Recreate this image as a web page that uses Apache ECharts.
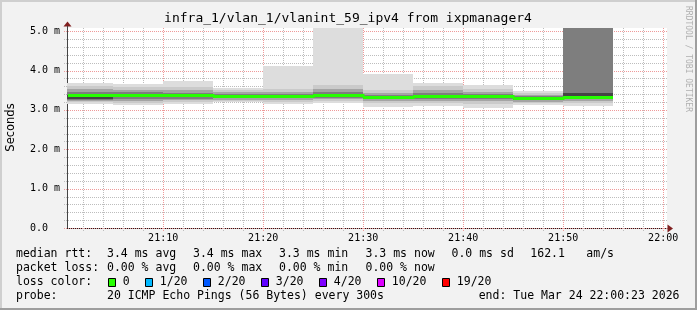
<!DOCTYPE html>
<html><head><meta charset="utf-8">
<script src="https://cdn.jsdelivr.net/npm/echarts@6/dist/echarts.min.js"></script>
<style>html,body{margin:0;padding:0;background:#f2f2f2}#c{width:697px;height:310px}</style>
</head><body><div id="c"></div>
<script>
// ---- data (x = minutes after 21:00, y = milliseconds) ----
const segTimes   = [0, 5, 10, 15, 20, 25, 30, 35, 40, 45, 50, 55];
const medianRtt  = [3.39, 3.37, 3.37, 3.35, 3.36, 3.38, 3.34, 3.35, 3.35, 3.29, 3.33];
const smokeL1Lo  = [3.14, 3.12, 3.16, 3.20, 3.14, 3.18, 3.08, 3.11, 3.06, 3.12, 3.10];
const smokeL1Hi  = [3.68, 3.65, 3.73, 3.56, 4.11, 5.60, 3.91, 3.68, 3.63, 3.49, 5.60];
const smokeL2Lo  = [3.19, 3.18, 3.20, 3.23, 3.20, 3.22, 3.17, 3.17, 3.15, 3.17, 3.17];
const smokeL2Hi  = [3.60, 3.57, 3.58, 3.50, 3.52, 3.62, 3.50, 3.60, 3.54, 3.44, 5.60];
const smokeL3Lo  = [3.22, 3.23, 3.24, 3.26, 3.25, 3.27, 3.23, 3.23, 3.22, 3.21, 3.23];
const smokeL3Hi  = [3.53, 3.50, 3.50, 3.45, 3.46, 3.52, 3.43, 3.50, 3.46, 3.39, 5.60];
const smokeL4Lo  = [3.25, 3.28, 3.28, 3.29, 3.29, 3.31, 3.27, 3.27, 3.27, 3.24, 3.28];
const smokeL4Hi  = [3.46, 3.45, 3.44, 3.41, 3.41, 3.45, 3.39, 3.42, 3.41, 3.35, 5.60];
const smokeL5Lo  = [3.27, 3.32, 3.32, 3.32, 3.32, 3.34, 3.30, 3.29, 3.31, 3.26, 3.30];
const smokeL5Hi  = [3.39, 3.41, 3.40, 3.38, 3.38, 3.41, 3.36, 3.35, 3.38, 3.31, 3.42];
const xTickValues = [10, 20, 30, 40, 50, 60];
const yTickValues = [0, 1, 2, 3, 4, 5];
const axisMin = 23/60, axisMax = 60 + 23/60, yMax = 5.08;

const titleText = 'infra_1/vlan_1/vlanint_59_ipv4 from ixpmanager4';
const rowLabels = ['median rtt:', 'packet loss:', 'loss color:', 'probe:'];
const rttStats  = ['3.4 ms avg', '3.4 ms max', '3.3 ms min', '3.3 ms now', '0.0 ms sd', '162.1', 'am/s'];
const lossStats = ['0.00 % avg', '0.00 % max', '0.00 % min', '0.00 % now'];
const lossLabels = ['0', '1/20', '2/20', '3/20', '4/20', '10/20', '19/20'];
const lossColors = ['#26ff00', '#00b8ff', '#0059ff', '#5e00ff', '#7e00ff', '#dd00ff', '#ff0000'];
const probeText = '20 ICMP Echo Pings (56 Bytes) every 300s';
const endText = 'end: Tue Mar 24 22:00:23 2026';

// ---- styles / layout ----
const bandColors = ['#dddddd', '#cacaca', '#a4a4a4', '#7e7e7e', '#454545'];
const bandsLo = [smokeL1Lo, smokeL2Lo, smokeL3Lo, smokeL4Lo, smokeL5Lo];
const bandsHi = [smokeL1Hi, smokeL2Hi, smokeL3Hi, smokeL4Hi, smokeL5Hi];
const MONO = '"DejaVu Sans Mono", monospace';
const MINOR_COLOR = '#bdbdbd';
const MAJOR_COLOR = '#ee9a9a';

const smokeData = [];
for (let i = 0; i < medianRtt.length; i++) {
  for (let b = 0; b < bandsLo.length; b++) {
    smokeData.push([segTimes[i], bandsLo[b][i], segTimes[i+1], bandsHi[b][i], b]);
  }
}
const medianData = medianRtt.map((m, i) => [segTimes[i], m, segTimes[i+1], i + 1 < medianRtt.length ? medianRtt[i+1] : m]);

const vMinor = [], vMajor = [];
for (let m = 2; m <= 60; m += 2) (m % 10 === 0 ? vMajor : vMinor).push([m, 0]);
const hMinor = [], hMajor = [];
for (let k = 0; k <= 25; k++) { const v = Math.round(k * 2) / 10; (k % 5 === 0 ? hMajor : hMinor).push([axisMin, v]); }

function csRect(p) { return {x: p.coordSys.x, y: p.coordSys.y, width: p.coordSys.width, height: p.coordSys.height}; }

function vGridSeries(data, color, z) {
  return { type: 'custom', silent: true, z: z, data: data,
    renderItem: (p, api) => {
      const x = Math.round(api.coord([api.value(0), 0])[0]) + 0.5;
      const cs = p.coordSys;
      return {type:'line', shape:{x1:x, y1:cs.y + cs.height + 3, x2:x, y2:cs.y},
        style:{stroke: color, lineWidth:1, lineDash:[1,1]}};
    }};
}
function hGridSeries(data, color, z) {
  return { type: 'custom', silent: true, z: z, data: data,
    renderItem: (p, api) => {
      const y = Math.round(api.coord([axisMin, api.value(1)])[1]) + 0.5;
      const cs = p.coordSys;
      return {type:'line', shape:{x1:cs.x - 3, y1:y, x2:cs.x + cs.width, y2:y},
        style:{stroke: color, lineWidth:1, lineDash:[1,1]}};
    }};
}

const chart = echarts.init(document.getElementById('c'), null, {renderer: 'canvas'});

const graphic = [];
graphic.push({type:'rect', shape:{x:0,y:0,width:697,height:2}, style:{fill:'#cfcfcf'}, z:100});
graphic.push({type:'rect', shape:{x:0,y:0,width:2,height:310}, style:{fill:'#cfcfcf'}, z:100});
graphic.push({type:'rect', shape:{x:0,y:308,width:697,height:2}, style:{fill:'#9e9e9e'}, z:101});
graphic.push({type:'rect', shape:{x:695,y:0,width:2,height:310}, style:{fill:'#9e9e9e'}, z:101});
graphic.push({type:'text', x:348, y:19, style:{text:titleText, font:'13px ' + MONO, fill:'#000', textAlign:'center', textVerticalAlign:'middle'}, z:100});
graphic.push({type:'text', x:11, y:127.5, rotation:Math.PI/2, style:{text:'Seconds', font:'11.5px "DejaVu Sans", sans-serif', fill:'#000', textAlign:'center', textVerticalAlign:'middle'}, z:100});
graphic.push({type:'text', x:688.5, y:59, rotation:-Math.PI/2, style:{text:'RRDTOOL / TOBI OETIKER', font:'8px ' + MONO, fill:'#b0b0b0', textAlign:'center', textVerticalAlign:'middle'}, z:100});
graphic.push({type:'polygon', shape:{points:[[63.5,26.5],[67.5,21.5],[71.5,26.5]]}, style:{fill:'#801f1f'}, z:100});
graphic.push({type:'polygon', shape:{points:[[667.5,224.5],[673,228.5],[667.5,232.5]]}, style:{fill:'#801f1f'}, z:100});
graphic.push({type:'line', shape:{x1:67.5,y1:26,x2:67.5,y2:30}, style:{stroke:'#444',lineWidth:1}, z:100});

const rowY = [254.3, 268, 282, 296];
const legFont = '11.5px ' + MONO;
function txt(s, x, y) { graphic.push({type:'text', x:x, y:y, style:{text:s, font:legFont, fill:'#000', textAlign:'left', textVerticalAlign:'middle'}, z:100}); }
rowLabels.forEach((s, i) => txt(s, 16, rowY[i]));
const rttX = [107, 193, 279, 365.5, 451.5, 530.3, 586.3];
rttStats.forEach((s, i) => txt(s, rttX[i], rowY[0]));
lossStats.forEach((s, i) => txt(s, rttX[i], rowY[1]));
const swatchX = [108.5, 145.5, 203.5, 261.5, 319.5, 377.5, 442.5];
lossLabels.forEach((s, i) => {
  graphic.push({type:'rect', shape:{x:swatchX[i], y:278.5, width:7, height:8}, style:{fill:lossColors[i], stroke:'#000', lineWidth:1}, z:100});
  txt(s, swatchX[i] + 14.3, rowY[2]);
});
txt(probeText, 107, rowY[3]);
txt(endText, 478.7, rowY[3]);

const option = {
  animation: false,
  backgroundColor: '#f2f2f2',
  grid: {left: 67, right: 30, top: 28, bottom: 82, show: true, backgroundColor: '#ffffff', borderWidth: 0, containLabel: false},
  xAxis: {
    type: 'value', min: axisMin, max: axisMax,
    axisLine: {show: true, onZero: false, lineStyle: {color: '#1f1f1f', width: 1}},
    axisTick: {show: false},
    splitLine: {show: false},
    axisLabel: {customValues: xTickValues, margin: 5, fontFamily: MONO, fontSize: 10, color: '#000',
      formatter: v => { const tot = 21*60 + Math.round(v); return String(Math.floor(tot/60)) + ':' + String(tot%60).padStart(2,'0'); }}
  },
  yAxis: {
    type: 'value', min: 0, max: yMax,
    axisLine: {show: true, lineStyle: {color: '#444', width: 1}},
    axisTick: {show: false},
    splitLine: {show: false},
    axisLabel: {customValues: yTickValues, margin: 7, fontFamily: MONO, fontSize: 10, color: '#000',
      formatter: v => v === 0 ? '0.0  ' : v.toFixed(1) + ' m'}
  },
  graphic: graphic,
  series: [
    vGridSeries(vMinor, MINOR_COLOR, 1),
    hGridSeries(hMinor, MINOR_COLOR, 1),
    vGridSeries(vMajor, MAJOR_COLOR, 1),
    hGridSeries(hMajor, MAJOR_COLOR, 1),
    { // smoke
      type: 'custom', silent: true, z: 2, data: smokeData,
      renderItem: (p, api) => {
        const a = api.coord([api.value(0), api.value(3)]);
        const b = api.coord([api.value(2), api.value(1)]);
        const x0 = Math.round(a[0]), x1 = Math.round(b[0]);
        const y0 = Math.round(a[1]), y1 = Math.round(b[1]);
        const r = echarts.graphic.clipRectByRect({x:x0, y:y0, width:x1-x0, height:y1-y0}, csRect(p));
        if (!r) return null;
        return {type:'rect', shape:r, style:{fill: bandColors[api.value(4)]}};
      }
    },
    { // median rtt, coloured by loss (0 loss = green)
      type: 'custom', silent: true, z: 3, data: medianData,
      renderItem: (p, api) => {
        const a = api.coord([api.value(0), api.value(1)]);
        const b = api.coord([api.value(2), api.value(3)]);
        const cs = p.coordSys;
        const x0 = Math.max(Math.round(a[0]), cs.x + 1), x1 = Math.round(b[0]);
        const y0 = Math.round(a[1]) + 0.5, y1 = Math.round(b[1]) + 0.5;
        return {type:'polyline', shape:{points:[[x0, y0], [x1, y0], [x1, y1]]},
          style:{stroke: lossColors[0], lineWidth: 3, fill: null, lineJoin: 'miter', lineCap: 'butt'}};
      }
    }
  ]
};
chart.setOption(option);
</script>
</body></html>
